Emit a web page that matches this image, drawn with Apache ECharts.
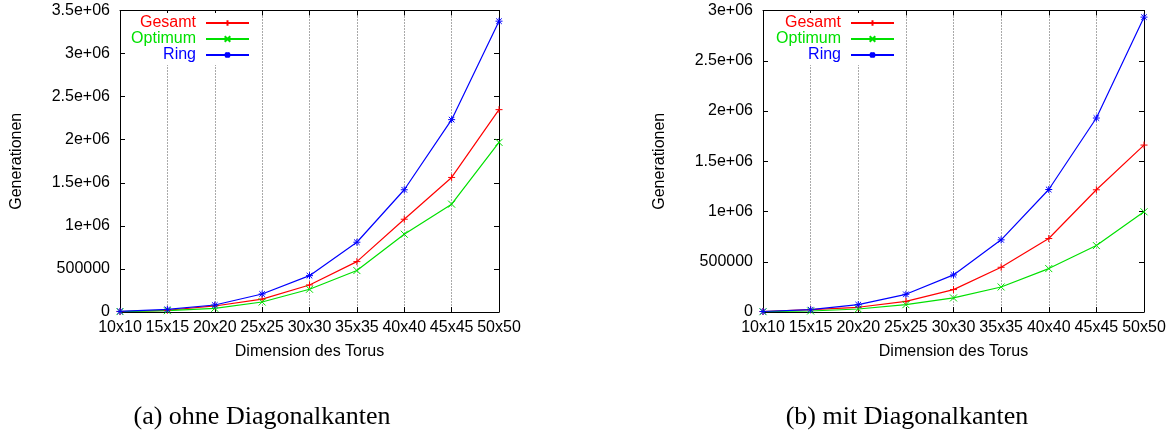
<!DOCTYPE html>
<html>
<head>
<meta charset="utf-8">
<script src="https://cdn.jsdelivr.net/npm/echarts@6/dist/echarts.min.js"></script>
<style>
  html, body { margin: 0; padding: 0; background: #fff; }
  #main { width: 1176px; height: 432px; }
</style>
</head>
<body>
<div id="main"></div>
<script>
  // Daten
  var dims = ['10x10', '15x15', '20x20', '25x25', '30x30', '35x35', '40x40', '45x45', '50x50'];

  // (a) ohne Diagonalkanten
  var gesamtA  = [5000, 20000, 70000, 150000, 314000, 585000, 1077000, 1562000, 2349000];
  var optimumA = [5000, 15000, 43000, 116000, 264000, 481000, 903000, 1252000, 1969000];
  var ringA    = [7000, 31000, 81000, 209000, 422000, 810000, 1419000, 2233000, 3376000];

  // (b) mit Diagonalkanten
  var gesamtB  = [5000, 23000, 47000, 106000, 223000, 445000, 731000, 1216000, 1661000];
  var optimumB = [3000, 10000, 30000, 73000, 140000, 249000, 432000, 661000, 997000];
  var ringB    = [5000, 23000, 73000, 176000, 369000, 718000, 1219000, 1930000, 2934000];

  var yTicksA = ['0', '500000', '1e+06', '1.5e+06', '2e+06', '2.5e+06', '3e+06', '3.5e+06'];
  var yTicksB = ['0', '500000', '1e+06', '1.5e+06', '2e+06', '2.5e+06', '3e+06'];

  var names = ['Gesamt', 'Optimum', 'Ring'];
  var colors = ['#ff0000', '#00e000', '#0000ff'];
  var symbols = [
    'path://M0,5L10,5M5,0L5,10',
    'path://M0,0L10,10M10,0L0,10',
    'path://M0,5L10,5M5,0L5,10M1,1L9,9M9,1L1,9'
  ];

  var font = 'Liberation Sans';
  var myChart = echarts.init(document.getElementById('main'));

  function xAxes(gridIndex) {
    var bottom = {
      type: 'category', gridIndex: gridIndex, data: dims, boundaryGap: false,
      axisLine: { onZero: false, lineStyle: { color: '#000', width: 1 } },
      axisTick: { inside: true, length: 5, interval: 0, lineStyle: { color: '#000' } },
      axisLabel: { interval: 0, margin: 8, color: '#000', fontSize: 16, fontFamily: font, hideOverlap: false },
      splitLine: { show: true, interval: 0, lineStyle: { color: '#555', type: [1, 2], width: 1 } },
      name: 'Dimension des Torus', nameLocation: 'middle', nameGap: 32,
      nameTextStyle: { color: '#000', fontSize: 16, fontFamily: font }
    };
    var top = {
      type: 'category', gridIndex: gridIndex, data: dims, boundaryGap: false, position: 'top',
      axisLine: { onZero: false, lineStyle: { color: '#000', width: 1 } },
      axisTick: { inside: true, length: 5, interval: 0, lineStyle: { color: '#000' } },
      axisLabel: { show: false },
      splitLine: { show: false }
    };
    return [bottom, top];
  }

  function yAxes(gridIndex, max, labels) {
    var left = {
      type: 'value', gridIndex: gridIndex, min: 0, max: max, interval: 500000,
      axisLine: { show: true, onZero: false, lineStyle: { color: '#000', width: 1 } },
      axisTick: { show: true, inside: true, length: 5, lineStyle: { color: '#000' } },
      axisLabel: {
        margin: 10, color: '#000', fontSize: 16, fontFamily: font,
        formatter: function (v) { return labels[Math.round(v / 500000)]; }
      },
      splitLine: { show: false },
      name: 'Generationen', nameLocation: 'middle', nameGap: 95, nameRotate: 90,
      nameTextStyle: { color: '#000', fontSize: 16, fontFamily: font }
    };
    var right = {
      type: 'value', gridIndex: gridIndex, min: 0, max: max, interval: 500000, position: 'right',
      axisLine: { show: true, onZero: false, lineStyle: { color: '#000', width: 1 } },
      axisTick: { show: true, inside: true, length: 5, lineStyle: { color: '#000' } },
      axisLabel: { show: false },
      splitLine: { show: false }
    };
    return [left, right];
  }

  function makeSeries(data, i, xIdx, yIdx) {
    return {
      name: names[i], type: 'line', data: data,
      xAxisIndex: xIdx, yAxisIndex: yIdx,
      symbol: symbols[i], symbolSize: 7, showAllSymbol: true,
      lineStyle: { color: colors[i], width: 1.2 },
      itemStyle: { color: colors[i], borderColor: colors[i], borderWidth: 1 },
      animation: false
    };
  }

  function makeLegend(right) {
    return {
      orient: 'vertical', align: 'right', right: right, top: 13,
      itemWidth: 43, itemHeight: 7, itemGap: 0,
      padding: [2, 4, 2, 4], backgroundColor: '#fff',
      selectedMode: false,
      textStyle: { fontSize: 16, fontFamily: font, lineHeight: 16, padding: [0, 5, 0, 0] },
      data: names.map(function (n, i) { return { name: n, textStyle: { color: colors[i] } }; })
    };
  }

  var option = {
    backgroundColor: '#fff',
    animation: false,
    grid: [
      { left: 120, right: 677, top: 10.5, bottom: 120 },
      { left: 763, right: 32, top: 10.5, bottom: 120 }
    ],
    legend: [makeLegend(922), makeLegend(277)],
    xAxis: xAxes(0).concat(xAxes(1)),
    yAxis: yAxes(0, 3500000, yTicksA).concat(yAxes(1, 3000000, yTicksB)),
    series: [
      makeSeries(gesamtA, 0, 0, 0),
      makeSeries(optimumA, 1, 0, 0),
      makeSeries(ringA, 2, 0, 0),
      makeSeries(gesamtB, 0, 2, 2),
      makeSeries(optimumB, 1, 2, 2),
      makeSeries(ringB, 2, 2, 2)
    ],
    graphic: [
      {
        type: 'text', x: 262, y: 417,
        style: { text: '(a) ohne Diagonalkanten', align: 'center', verticalAlign: 'middle',
                 textAlign: 'center', textVerticalAlign: 'middle',
                 font: '26px "Liberation Serif"', fill: '#000' }
      },
      {
        type: 'text', x: 907, y: 417,
        style: { text: '(b) mit Diagonalkanten', align: 'center', verticalAlign: 'middle',
                 textAlign: 'center', textVerticalAlign: 'middle',
                 font: '26px "Liberation Serif"', fill: '#000' }
      }
    ]
  };
  myChart.setOption(option);
</script>
</body>
</html>
